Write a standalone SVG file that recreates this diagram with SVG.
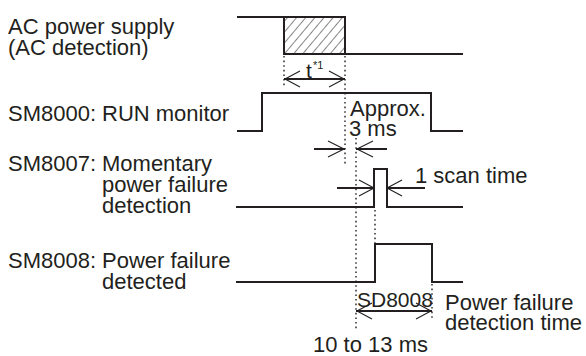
<svg xmlns="http://www.w3.org/2000/svg" width="586" height="356" viewBox="0 0 586 356">
<defs>
<style>
text{font-family:"Liberation Sans",Arial,sans-serif;font-size:22px;fill:#231f20}
.sm{font-size:21px}
.sup{font-size:11px}
.wave{fill:none;stroke:#231f20;stroke-width:2;stroke-linejoin:miter}
.dot{fill:none;stroke:#231f20;stroke-width:1.4;stroke-dasharray:1.6 3}
.arr{fill:none;stroke:#231f20;stroke-width:2}
.head{fill:none;stroke:#231f20;stroke-width:1.1}
.hatch{stroke:#231f20;stroke-width:1.1}
</style>
<pattern id="hp" patternUnits="userSpaceOnUse" width="7" height="7" patternTransform="rotate(40)">
<line x1="0" y1="0" x2="0" y2="7" class="hatch"/>
</pattern>
</defs>
<rect width="586" height="356" fill="#ffffff"/>

<g id="ac-power">
<text x="8" y="34">AC power supply</text>
<text x="8" y="55">(AC detection)</text>
<rect x="284" y="17" width="61" height="37" fill="url(#hp)"/>
<path class="wave" d="M237,17 H284 V54 H463 M284,17 H345 V54"/>
</g>

<g id="sm8000">
<text x="8" y="121">SM8000:</text>
<text x="102" y="121">RUN monitor</text>
<path class="wave" d="M237,131 H262 V93 H431 V131 H463"/>
</g>

<g id="sm8007">
<text x="8" y="171">SM8007:</text>
<text x="102" y="171">Momentary</text>
<text x="102" y="192">power failure</text>
<text x="102" y="213">detection</text>
<path class="wave" d="M236,207 H374 V169 H387 V207 H463"/>
</g>

<g id="sm8008">
<text x="8" y="268">SM8008:</text>
<text x="102" y="268">Power failure</text>
<text x="102" y="289">detected</text>
<path class="wave" d="M236,282 H375 V244 H432 V282 H463"/>
</g>

<g id="connectors">
<line class="dot" x1="284" y1="56" x2="284" y2="87"/>
<line class="dot" x1="345" y1="56" x2="345" y2="165"/>
<line class="dot" x1="356" y1="138" x2="356" y2="331"/>
<line class="dot" x1="375" y1="210" x2="375" y2="244"/>
<line class="dot" x1="432" y1="284" x2="432" y2="318"/>

<line class="arr" x1="284" y1="79" x2="345" y2="79"/>
<path class="head" d="M300,71 L285,79 L300,87 M329,71 L344,79 L329,87"/>

<line class="arr" x1="314" y1="149" x2="345" y2="149"/>
<path class="head" d="M328,141 L344,149 L328,157"/>
<line class="arr" x1="356" y1="149" x2="387" y2="149"/>
<path class="head" d="M373,141 L357,149 L373,157"/>

<line class="arr" x1="337" y1="188" x2="374" y2="188"/>
<path class="head" d="M359,180 L374,188 L359,196"/>
<line class="arr" x1="387" y1="188" x2="425" y2="188"/>
<path class="head" d="M402,180 L387,188 L402,196"/>

<line class="arr" x1="356" y1="311" x2="432" y2="311"/>
<path class="head" d="M372,303 L357,311 L372,319 M416,303 L431,311 L416,319"/>
</g>

<g id="labels">
<text x="306" y="78" class="sm">t</text>
<text x="313" y="69" class="sup">*1</text>
<text x="350" y="116">Approx.</text>
<text x="349" y="136">3 ms</text>
<text x="415" y="183">1 scan time</text>
<text x="357" y="307" class="sm">SD8008</text>
<text x="445" y="310">Power failure</text>
<text x="445" y="330">detection time</text>
<text x="313" y="352">10 to 13 ms</text>
</g>
</svg>
